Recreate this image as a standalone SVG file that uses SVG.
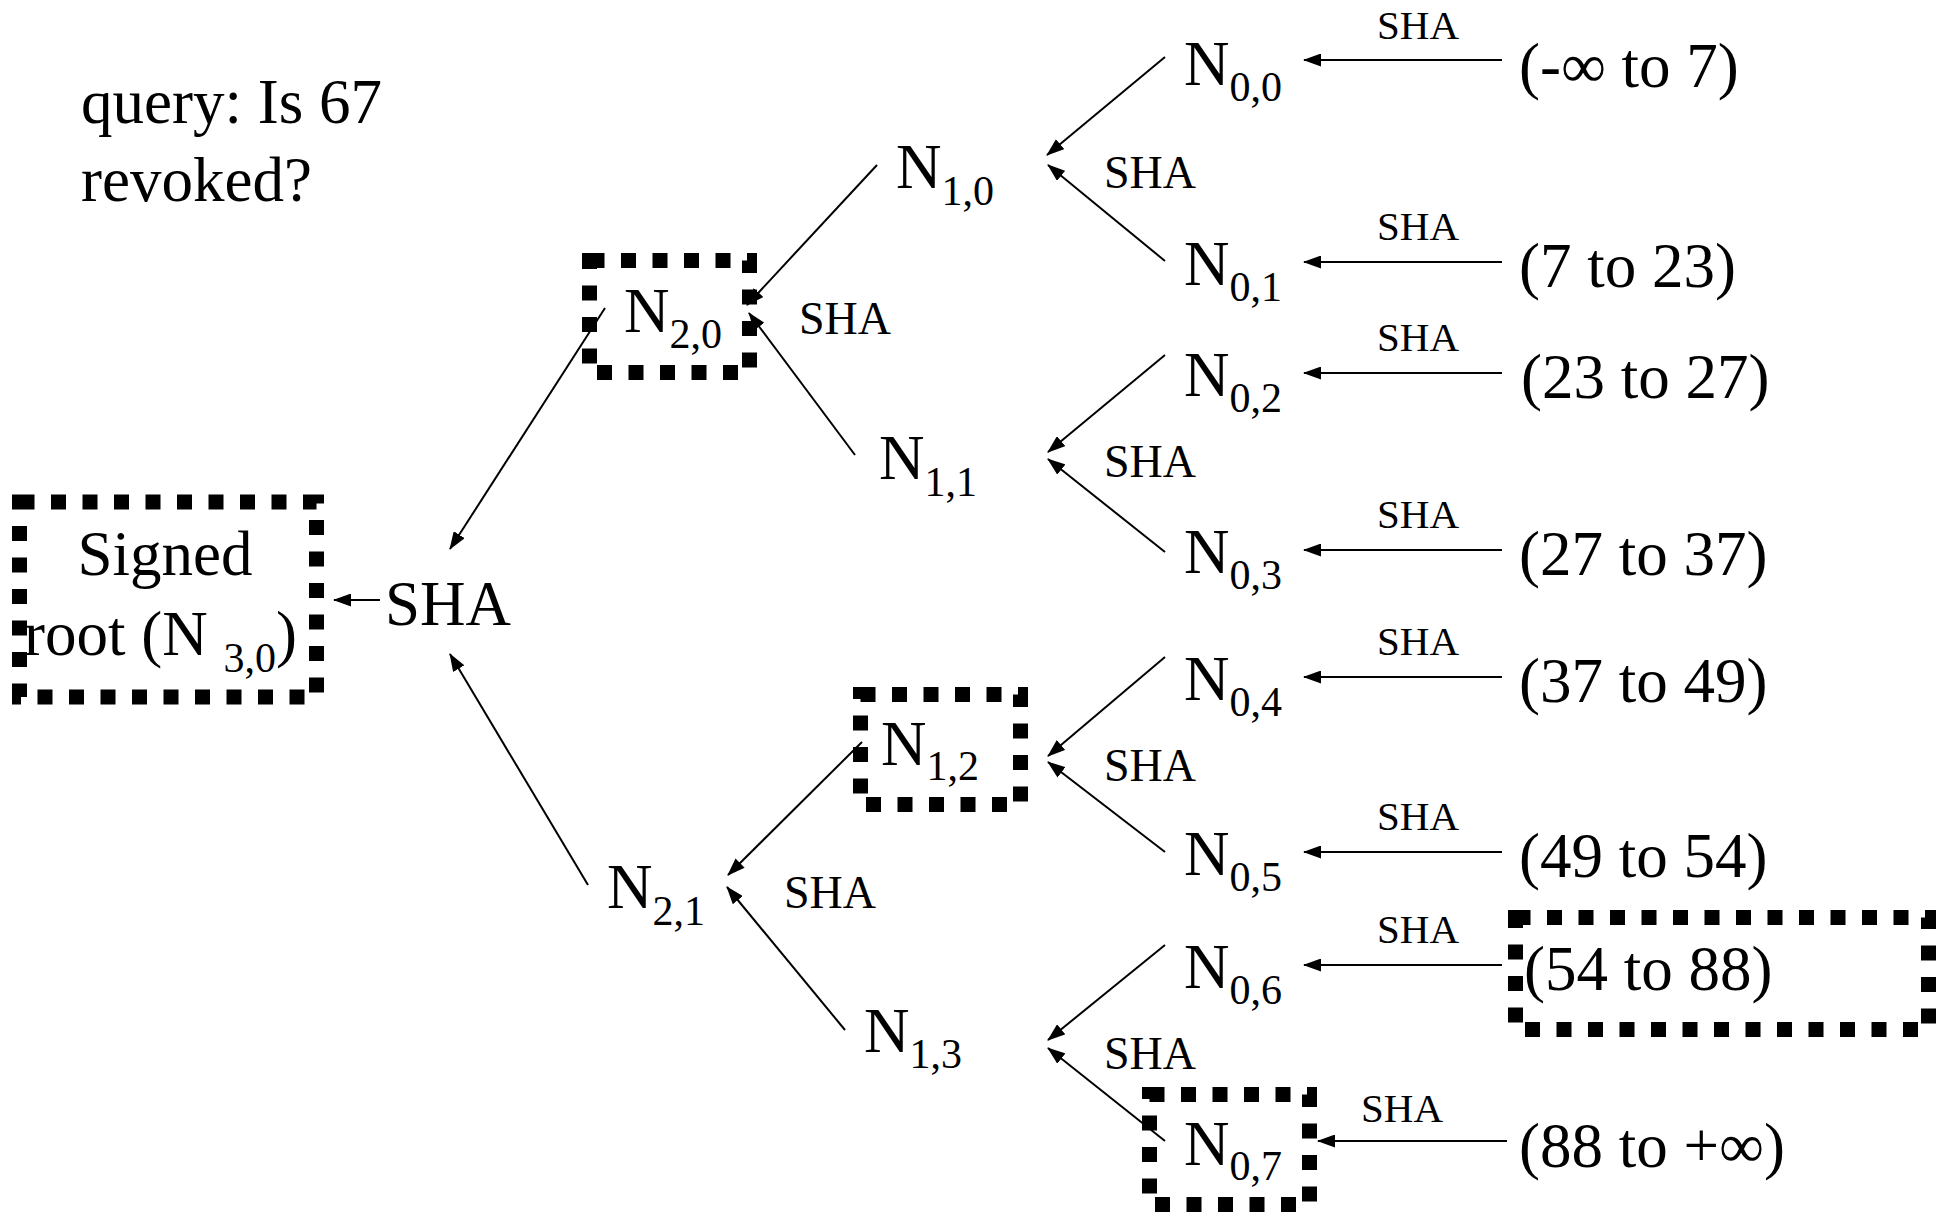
<svg xmlns="http://www.w3.org/2000/svg" width="1937" height="1214" viewBox="0 0 1937 1214">
  <style>
    text { font-family: "Liberation Serif", "Times New Roman", serif; fill: #000; }
    .big { font-size: 63px; }
    .sub { font-size: 42px; }
    .sha-mid { font-size: 46px; }
    .sha-top { font-size: 41px; }
    .dotbox { fill: none; stroke: #000; stroke-width: 15; stroke-dasharray: 15 16.5; }
    .edge { stroke: #000; stroke-width: 2; fill: none; marker-end: url(#arrow); }
  </style>
  <defs>
    <marker id="arrow" viewBox="0 0 18 13" refX="17" refY="6.5" markerWidth="18" markerHeight="13" markerUnits="userSpaceOnUse" orient="auto">
      <path d="M0,0 L18,6.5 L0,13 Z" fill="#000"/>
    </marker>
  </defs>

  <rect width="1937" height="1214" fill="#fff"/>

  <!-- question -->
  <g id="query">
    <text class="big" x="81" y="123">query: Is 67</text>
    <text class="big" x="81" y="201">revoked?</text>
  </g>

  <!-- connectors -->
  <g id="connectors">
    <!-- leaf ranges into level-0 hashes -->
    <line class="edge" x1="1502" y1="60" x2="1304" y2="60"/>
    <line class="edge" x1="1502" y1="262" x2="1304" y2="262"/>
    <line class="edge" x1="1502" y1="373" x2="1304" y2="373"/>
    <line class="edge" x1="1502" y1="550" x2="1304" y2="550"/>
    <line class="edge" x1="1502" y1="677" x2="1304" y2="677"/>
    <line class="edge" x1="1502" y1="852" x2="1304" y2="852"/>
    <line class="edge" x1="1502" y1="965" x2="1304" y2="965"/>
    <line class="edge" x1="1507" y1="1141" x2="1318" y2="1141"/>
    <!-- level 0 to level 1 -->
    <line class="edge" x1="1165" y1="57" x2="1047" y2="155"/>
    <line class="edge" x1="1165" y1="261" x2="1048" y2="165"/>
    <line class="edge" x1="1165" y1="355" x2="1048" y2="452"/>
    <line class="edge" x1="1165" y1="552" x2="1048" y2="459"/>
    <line class="edge" x1="1165" y1="657" x2="1048" y2="756"/>
    <line class="edge" x1="1165" y1="852" x2="1048" y2="762"/>
    <line class="edge" x1="1165" y1="945" x2="1048" y2="1040"/>
    <line class="edge" x1="1165" y1="1141" x2="1048" y2="1048"/>
    <!-- level 1 to level 2 -->
    <line class="edge" x1="877" y1="165" x2="747" y2="305"/>
    <line class="edge" x1="855" y1="455" x2="749" y2="313"/>
    <line class="edge" x1="862" y1="742" x2="728" y2="875"/>
    <line class="edge" x1="845" y1="1030" x2="727" y2="887"/>
    <!-- level 2 to root hash -->
    <line class="edge" x1="605" y1="308" x2="450" y2="549"/>
    <line class="edge" x1="588" y1="885" x2="450" y2="654"/>
    <!-- root hash into signed root -->
    <line class="edge" x1="380" y1="600" x2="334" y2="600"/>
  </g>

  <!-- hash labels on the leaf arrows -->
  <g id="leaf-sha-labels">
    <text class="sha-top" x="1377" y="39">SHA</text>
    <text class="sha-top" x="1377" y="240">SHA</text>
    <text class="sha-top" x="1377" y="351">SHA</text>
    <text class="sha-top" x="1377" y="528">SHA</text>
    <text class="sha-top" x="1377" y="655">SHA</text>
    <text class="sha-top" x="1377" y="830">SHA</text>
    <text class="sha-top" x="1377" y="943">SHA</text>
    <text class="sha-top" x="1361" y="1122">SHA</text>
  </g>

  <!-- hash labels between levels -->
  <g id="inner-sha-labels">
    <text class="sha-mid" x="1104" y="188">SHA</text>
    <text class="sha-mid" x="1104" y="477">SHA</text>
    <text class="sha-mid" x="1104" y="781">SHA</text>
    <text class="sha-mid" x="1104" y="1069">SHA</text>
    <text class="sha-mid" x="799" y="334">SHA</text>
    <text class="sha-mid" x="784" y="908">SHA</text>
  </g>

  <!-- signed root -->
  <g id="root">
    <rect class="dotbox" x="19.5" y="502" width="297" height="195"/>
    <text class="big" x="165" y="575" text-anchor="middle">Signed</text>
    <text class="big" x="24" y="655">root (N <tspan class="sub" dy="17">3,0</tspan><tspan dy="-17">)</tspan></text>
  </g>
  <g id="root-sha">
    <text class="big" x="385" y="625">SHA</text>
  </g>

  <!-- level 2 -->
  <g id="n20">
    <rect class="dotbox" x="589.5" y="260.5" width="160" height="112"/>
    <text class="big" x="624" y="332">N<tspan class="sub" dy="16">2,0</tspan></text>
  </g>
  <g id="n21">
    <text class="big" x="607" y="908">N<tspan class="sub" dy="17">2,1</tspan></text>
  </g>

  <!-- level 1 -->
  <g id="n10">
    <text class="big" x="896" y="188">N<tspan class="sub" dy="17">1,0</tspan></text>
  </g>
  <g id="n11">
    <text class="big" x="879" y="479">N<tspan class="sub" dy="17">1,1</tspan></text>
  </g>
  <g id="n12">
    <rect class="dotbox" x="860.5" y="694.5" width="160" height="110"/>
    <text class="big" x="881" y="765">N<tspan class="sub" dy="15">1,2</tspan></text>
  </g>
  <g id="n13">
    <text class="big" x="864" y="1052">N<tspan class="sub" dy="16">1,3</tspan></text>
  </g>

  <!-- level 0 -->
  <g id="n00"><text class="big" x="1184" y="85">N<tspan class="sub" dy="16">0,0</tspan></text></g>
  <g id="n01"><text class="big" x="1184" y="285">N<tspan class="sub" dy="16">0,1</tspan></text></g>
  <g id="n02"><text class="big" x="1184" y="396">N<tspan class="sub" dy="16">0,2</tspan></text></g>
  <g id="n03"><text class="big" x="1184" y="573">N<tspan class="sub" dy="16">0,3</tspan></text></g>
  <g id="n04"><text class="big" x="1184" y="700">N<tspan class="sub" dy="16">0,4</tspan></text></g>
  <g id="n05"><text class="big" x="1184" y="875">N<tspan class="sub" dy="16">0,5</tspan></text></g>
  <g id="n06"><text class="big" x="1184" y="988">N<tspan class="sub" dy="16">0,6</tspan></text></g>
  <g id="n07">
    <rect class="dotbox" x="1149.5" y="1094.5" width="160" height="110"/>
    <text class="big" x="1184" y="1165">N<tspan class="sub" dy="15">0,7</tspan></text>
  </g>

  <!-- revocation ranges -->
  <g id="r0"><text class="big" x="1519" y="87">(-∞ to 7)</text></g>
  <g id="r1"><text class="big" x="1519" y="287">(7 to 23)</text></g>
  <g id="r2"><text class="big" x="1521" y="398">(23 to 27)</text></g>
  <g id="r3"><text class="big" x="1519" y="575">(27 to 37)</text></g>
  <g id="r4"><text class="big" x="1519" y="702">(37 to 49)</text></g>
  <g id="r5"><text class="big" x="1519" y="877">(49 to 54)</text></g>
  <g id="r6">
    <rect class="dotbox" x="1515.5" y="917.5" width="413" height="112"/>
    <text class="big" x="1524" y="990">(54 to 88)</text>
  </g>
  <g id="r7"><text class="big" x="1519" y="1167">(88 to +∞)</text></g>
</svg>
